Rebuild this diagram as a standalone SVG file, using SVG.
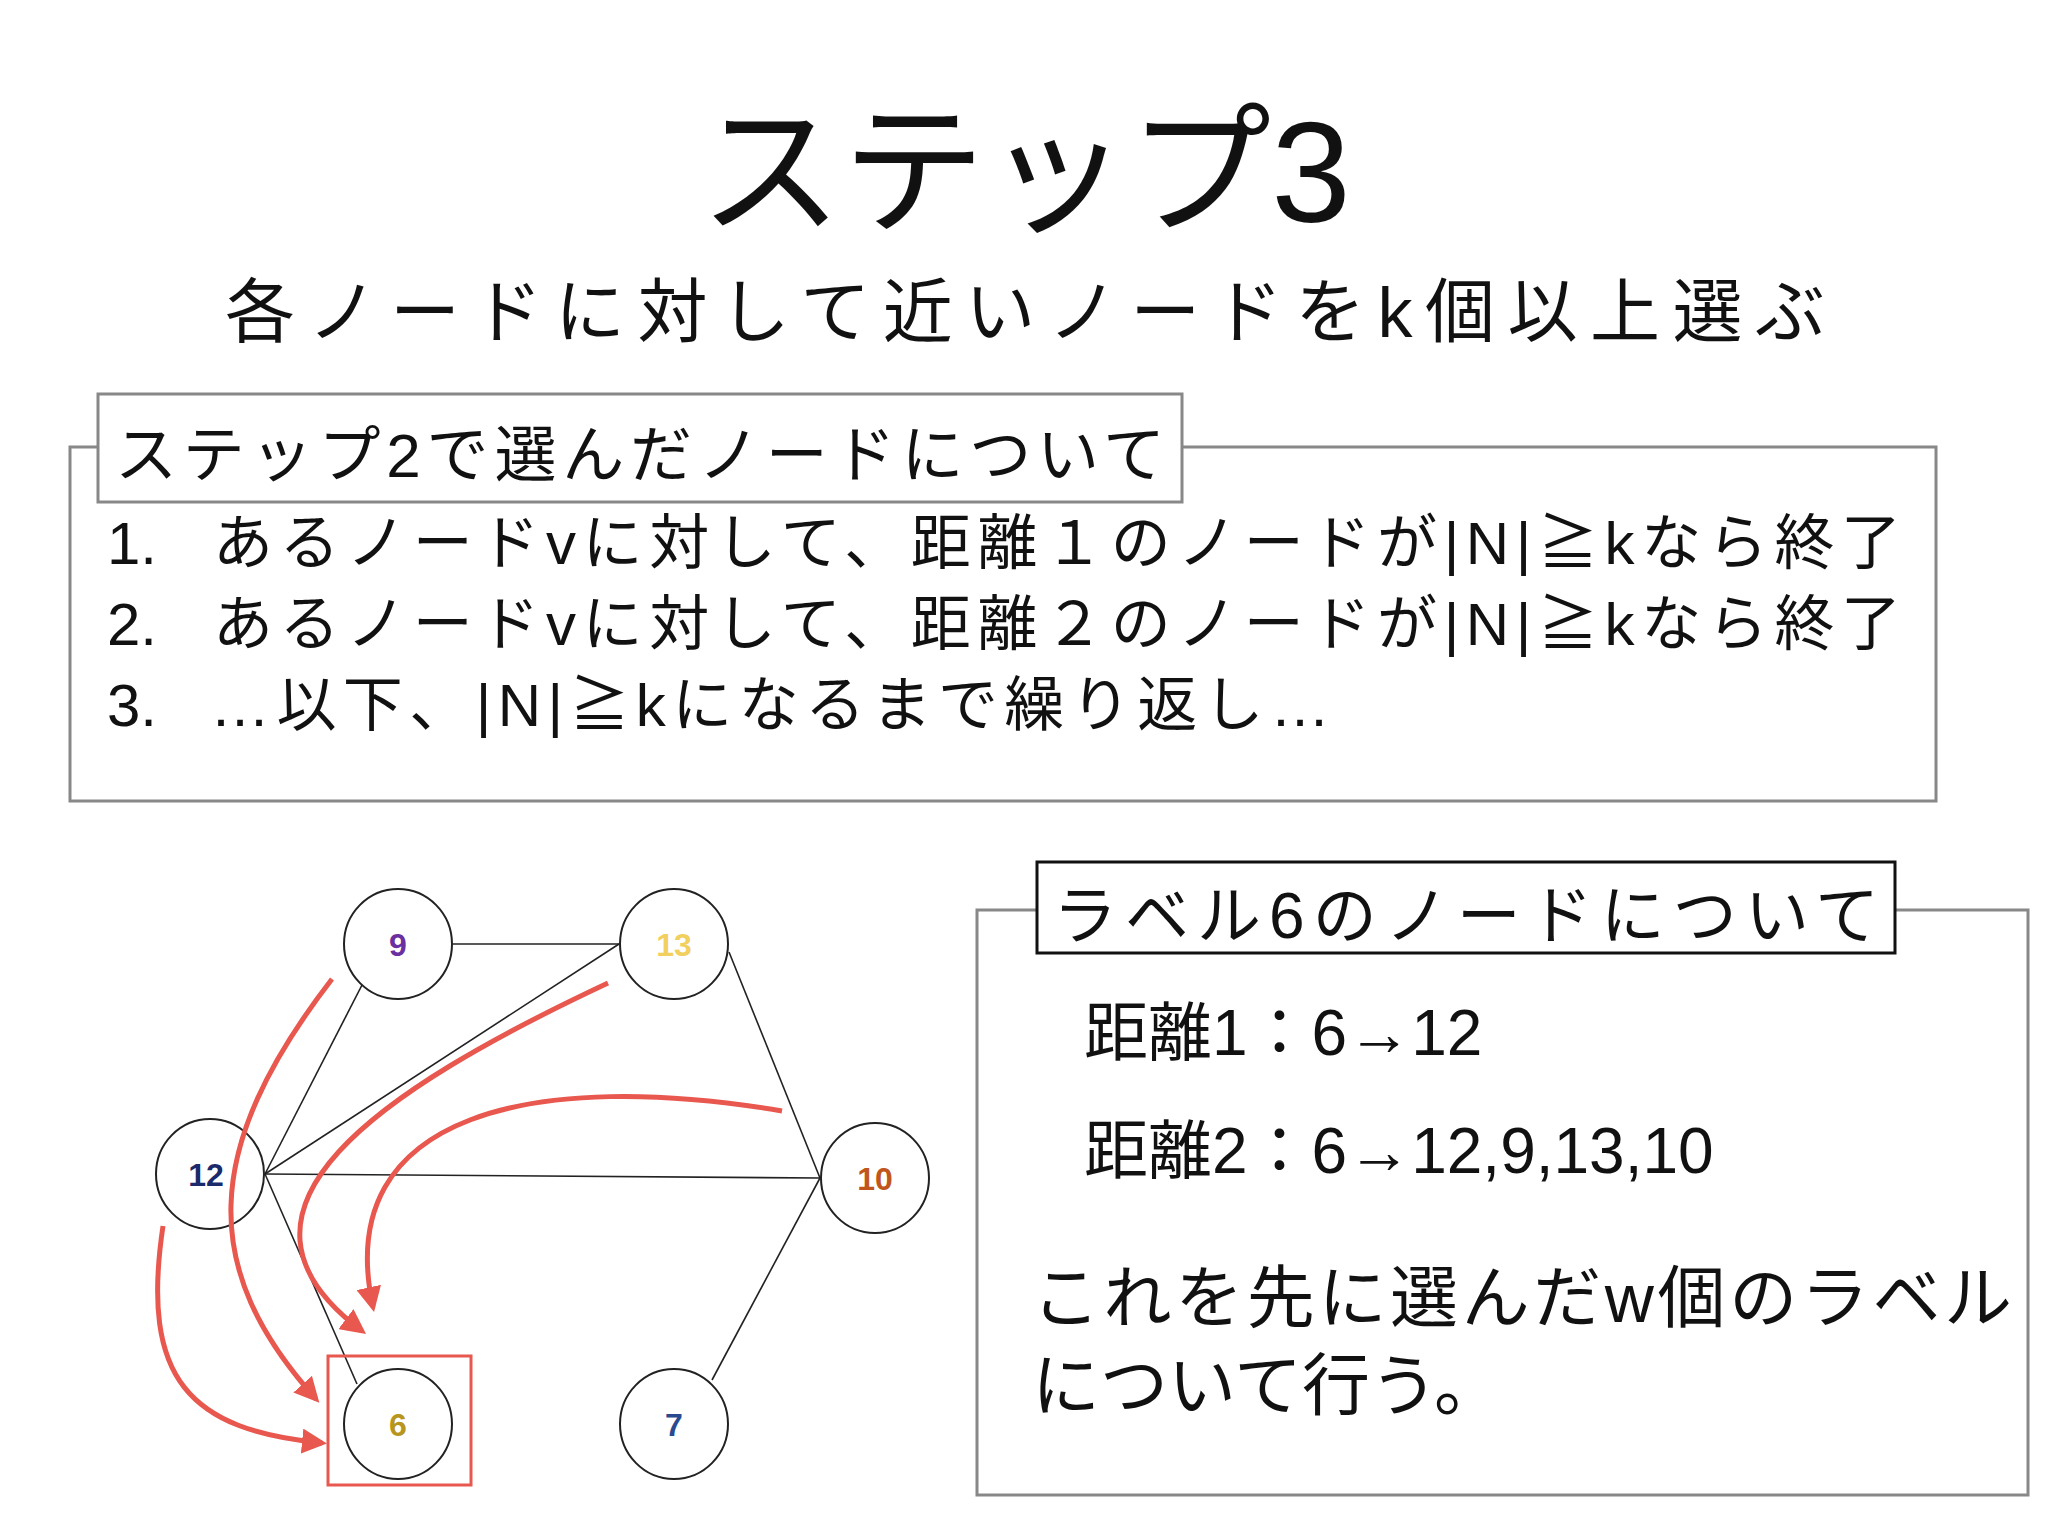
<svg xmlns="http://www.w3.org/2000/svg" width="2048" height="1536" viewBox="0 0 2048 1536">
<style>
.t{font-family:"Liberation Sans","Noto Sans CJK JP",sans-serif;fill:#111}
.n{fill:#fff;stroke:#222;stroke-width:2}
.e{stroke:#222;stroke-width:1.6}
.nl{font-family:"Liberation Sans",sans-serif;font-size:32px;font-weight:bold;text-anchor:middle}
.r{fill:none;stroke:#e8584f;stroke-width:5;marker-end:url(#ah)}
</style>
<defs><marker id="ah" viewBox="0 0 10 10" refX="8" refY="5" markerWidth="5" markerHeight="5" orient="auto" markerUnits="strokeWidth"><path d="M0,0L10,5L0,10z" fill="#e8584f"/></marker></defs>
<rect width="2048" height="1536" fill="#fff"/>
<text class="t" x="1025" y="222" font-size="143" text-anchor="middle">ステップ3</text>
<text class="t" x="1025" y="337" font-size="70" text-anchor="middle" textLength="1600">各ノードに対して近いノードをk個以上選ぶ</text>
<g id="box1">
<rect x="70" y="447" width="1866" height="354" fill="none" stroke="#888" stroke-width="3"/>
<rect x="98" y="394" width="1084" height="108" fill="#fff" stroke="#888" stroke-width="3"/>
<text class="t" x="115" y="477" font-size="62" textLength="1050">ステップ2で選んだノードについて</text>
<text class="t" x="107" y="564" font-size="60">1.</text>
<text class="t" x="213" y="564" font-size="60" textLength="1688">あるノードvに対して、距離１のノードが|N|≧kなら終了</text>
<text class="t" x="107" y="645" font-size="60">2.</text>
<text class="t" x="213" y="645" font-size="60" textLength="1688">あるノードvに対して、距離２のノードが|N|≧kなら終了</text>
<text class="t" x="107" y="726" font-size="60">3.</text>
<text class="t" x="210" y="726" font-size="60" textLength="1120">…以下、|N|≧kになるまで繰り返し…</text>
</g>
<g id="edges">
<line class="e" x1="453" y1="944" x2="619" y2="944"/>
<line class="e" x1="619" y1="944" x2="265" y2="1174"/>
<line class="e" x1="362" y1="985" x2="265" y2="1174"/>
<line class="e" x1="265" y1="1174" x2="820" y2="1178"/>
<line class="e" x1="729" y1="952" x2="820" y2="1178"/>
<line class="e" x1="820" y1="1178" x2="712" y2="1380"/>
<line class="e" x1="265" y1="1174" x2="357" y2="1384"/>
</g>
<g id="n9"><ellipse class="n" cx="398" cy="944" rx="54" ry="55"/><text class="nl" x="398" y="956" fill="#6a2fa0">9</text></g>
<g id="n13"><ellipse class="n" cx="674" cy="944" rx="54" ry="55"/><text class="nl" x="674" y="956" fill="#f2d060">13</text></g>
<g id="n12"><ellipse class="n" cx="210" cy="1174" rx="54" ry="55"/><text class="nl" x="206" y="1186" fill="#1a2a6a">12</text></g>
<g id="n10"><ellipse class="n" cx="875" cy="1178" rx="54" ry="55"/><text class="nl" x="875" y="1190" fill="#c0561c">10</text></g>
<g id="n6"><ellipse class="n" cx="398" cy="1424" rx="54" ry="55"/><text class="nl" x="398" y="1436" fill="#b8961e">6</text></g>
<g id="n7"><ellipse class="n" cx="674" cy="1424" rx="54" ry="55"/><text class="nl" x="674" y="1436" fill="#2a4a90">7</text></g>
<rect x="328" y="1356" width="143" height="129" fill="none" stroke="#e8584f" stroke-width="3"/>
<g id="arrows">
<path class="r" d="M332,979 C200,1150 200,1270 316,1399"/>
<path class="r" d="M163,1226 C140,1380 190,1430 322,1443"/>
<path class="r" d="M608,983 C380,1090 200,1210 362,1331"/>
<path class="r" d="M782,1111 C540,1070 330,1110 373,1307"/>
</g>
<g id="box2">
<rect x="977" y="910" width="1051" height="585" fill="none" stroke="#888" stroke-width="3"/>
<rect x="1037" y="862" width="858" height="91" fill="#fff" stroke="#111" stroke-width="3"/>
<text class="t" x="1053" y="938" font-size="64" textLength="826">ラベル6のノードについて</text>
<text class="t" x="1084" y="1055" font-size="64">距離1：6→12</text>
<text class="t" x="1084" y="1173" font-size="64">距離2：6→12,9,13,10</text>
<text class="t" x="1032" y="1322" font-size="68" textLength="980">これを先に選んだw個のラベル</text>
<text class="t" x="1032" y="1410" font-size="68">について行う。</text>
</g>
</svg>
